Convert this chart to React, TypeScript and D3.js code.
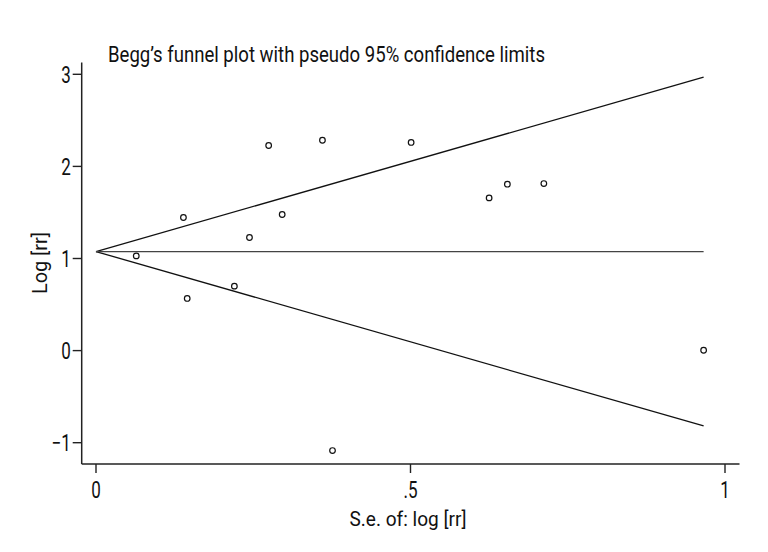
import React from 'react';
import { scaleLinear, line } from 'd3';

// standard error of log[rr] and log[rr] for each study
const seValues = [0.064, 0.139, 0.145, 0.22, 0.244, 0.2745, 0.296, 0.36, 0.376, 0.501, 0.625, 0.654, 0.712, 0.966];
const logRR = [1.028, 1.445, 0.566, 0.70, 1.228, 2.227, 1.478, 2.284, -1.085, 2.26, 1.658, 1.807, 1.814, 0.004];

// pooled estimate
const pooled = 1.075;
const z95 = 1.96;

const xTicks = [0, 0.5, 1];
const xTickLabels = ['0', '.5', '1'];
const yTicks = [-1, 0, 1, 2, 3];
const yTickLabels = ['\u22121', '0', '1', '2', '3'];

const title = "Begg\u2019s funnel plot with pseudo 95% confidence limits";
const xTitle = 'S.e. of: log [rr]';
const yTitle = 'Log [rr]';

const font = 'Roboto, "Liberation Sans", sans-serif';

// condensed text: draw narrow by squeezing horizontally
function Narrow({ x, y, anchor = 'start', size, children }: any) {
  return (
    <text transform={`translate(${x},${y}) scale(0.74,1)`} textAnchor={anchor} fontSize={size} fill="#111">
      {children}
    </text>
  );
}

export default function App() {
  const width = 768;
  const height = 552;

  const x = scaleLinear().domain([0, 1]).range([96, 725]);
  const y = scaleLinear().domain([-1, 3]).range([442.7, 74.3]);

  const axisLeftX = 81.7;
  const axisBottomY = 464;
  const ink = '#222';

  const maxSe = Math.max(...seValues);
  const path = line<[number, number]>().x(d => x(d[0])).y(d => y(d[1]));
  const upper: [number, number][] = [[0, pooled], [maxSe, pooled + z95 * maxSe]];
  const lower: [number, number][] = [[0, pooled], [maxSe, pooled - z95 * maxSe]];
  const mid: [number, number][] = [[0, pooled], [maxSe, pooled]];

  return (
    <svg width={width} height={height} style={{ position: 'absolute', left: 0, top: 0, background: '#fff' }}
      fontFamily={font}>
      <rect width={width} height={height} fill="#fff" />
      {/* title */}
      <text x={108} y={62} fontSize={22.5} fill="#111" textLength={437} lengthAdjust="spacingAndGlyphs">{title}</text>

      {/* y axis */}
      <line x1={axisLeftX} x2={axisLeftX} y1={62.5} y2={axisBottomY} stroke={ink} strokeWidth={1.5} />
      {yTicks.map((t, i) => (
        <g key={t}>
          <line x1={axisLeftX - 9} x2={axisLeftX} y1={y(t)} y2={y(t)} stroke={ink} strokeWidth={1.4} />
          <Narrow x={axisLeftX - 11} y={y(t) + 8.3} anchor="end" size={23}>{yTickLabels[i]}</Narrow>
        </g>
      ))}
      <text transform={`translate(47,263) rotate(-90)`} textAnchor="middle" fontSize={21} fill="#111"
        textLength={62} lengthAdjust="spacingAndGlyphs">{yTitle}</text>

      {/* x axis */}
      <line x1={axisLeftX} x2={739.5} y1={axisBottomY} y2={axisBottomY} stroke={ink} strokeWidth={1.5} />
      {xTicks.map((t, i) => (
        <g key={t}>
          <line x1={x(t)} x2={x(t)} y1={axisBottomY} y2={axisBottomY + 9} stroke={ink} strokeWidth={1.4} />
          <Narrow x={x(t)} y={498} anchor="middle" size={23}>{xTickLabels[i]}</Narrow>
        </g>
      ))}
      <text x={408} y={526} textAnchor="middle" fontSize={21} fill="#111"
        textLength={117} lengthAdjust="spacingAndGlyphs">{xTitle}</text>

      {/* funnel lines */}
      <path d={path(upper) || ''} stroke="#111" strokeWidth={1.3} fill="none" />
      <path d={path(lower) || ''} stroke="#111" strokeWidth={1.3} fill="none" />
      <path d={path(mid) || ''} stroke="#444" strokeWidth={1.3} fill="none" />

      {/* studies */}
      {seValues.map((s, i) => (
        <circle key={i} cx={x(s)} cy={y(logRR[i])} r={2.8} fill="#fff" stroke="#111" strokeWidth={1.2} />
      ))}
    </svg>
  );
}
